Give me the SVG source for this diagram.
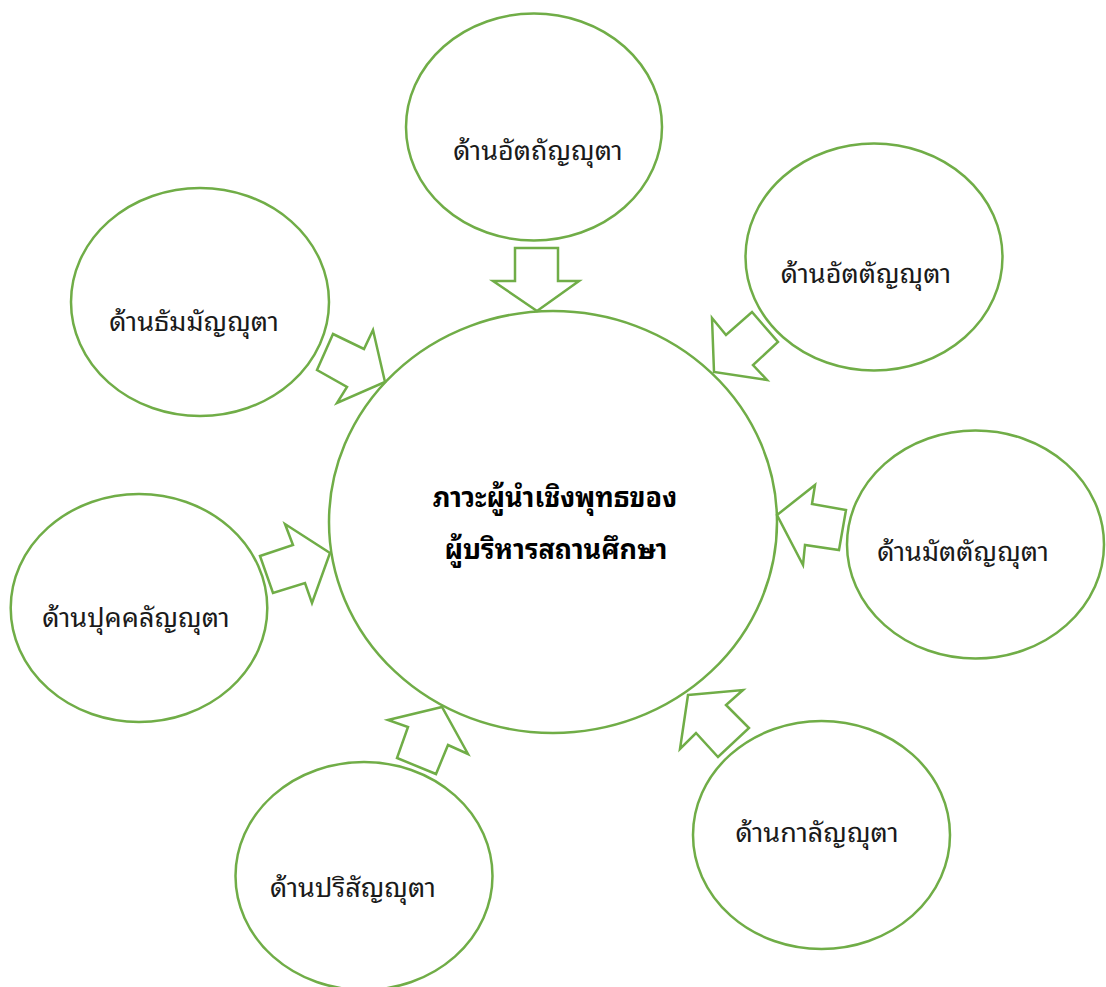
<svg xmlns="http://www.w3.org/2000/svg" width="1106" height="987" viewBox="0 0 1106 987">
<style>
.node{fill:none;stroke:#70AD47;stroke-width:2.5}
.arrow{fill:none;stroke:#70AD47;stroke-width:2.5;stroke-linejoin:miter}
.lbl{font-family:"Noto Sans Thai Looped","Noto Sans Thai","Noto Sans","DejaVu Sans",sans-serif;font-size:27px;fill:#1a1a1a;text-anchor:middle}
.ctr{font-family:"Noto Sans Thai Looped","Noto Sans Thai","Noto Sans","DejaVu Sans",sans-serif;font-size:27px;font-weight:bold;fill:#000;text-anchor:middle}
</style>
<rect width="1106" height="987" fill="#fff"/>
<g id="center">
<ellipse class="node" cx="553" cy="522" rx="224" ry="211"/>
<text class="ctr" x="555" y="507">ภาวะผู้นำเชิงพุทธของ</text>
<text class="ctr" x="556" y="559">ผู้บริหารสถานศึกษา</text>
</g>
<g id="n-top">
<ellipse class="node" cx="534" cy="127" rx="128" ry="113.5"/>
<text class="lbl" x="538" y="160">ด้านอัตถัญญุตา</text>
</g>
<g id="n-upper-right">
<ellipse class="node" cx="874" cy="257" rx="128.5" ry="113.5"/>
<text class="lbl" x="866" y="283">ด้านอัตตัญญุตา</text>
</g>
<g id="n-upper-left">
<ellipse class="node" cx="200" cy="302" rx="129" ry="114"/>
<text class="lbl" x="194" y="331">ด้านธัมมัญญุตา</text>
</g>
<g id="n-right">
<ellipse class="node" cx="975.5" cy="544.5" rx="128.5" ry="114"/>
<text class="lbl" x="963" y="561">ด้านมัตตัญญุตา</text>
</g>
<g id="n-left">
<ellipse class="node" cx="139" cy="608" rx="128.3" ry="114"/>
<text class="lbl" x="136" y="627">ด้านปุคคลัญญุตา</text>
</g>
<g id="n-lower-right">
<ellipse class="node" cx="821.5" cy="835" rx="128.5" ry="114"/>
<text class="lbl" x="817" y="842">ด้านกาลัญญุตา</text>
</g>
<g id="n-lower-left">
<ellipse class="node" cx="364" cy="876" rx="128.5" ry="114"/>
<text class="lbl" x="353" y="897">ด้านปริสัญญุตา</text>
</g>
<g id="connectors">
<polygon class="arrow" points="515,248 558,248 558,281 579,281 537,311 493,281 515,281"/>
<polygon class="arrow" points="712,318 726,335 752,312 778,342 753,365 767,380 714,372"/>
<polygon class="arrow" points="333,334 364,349 373,330 385,382 337,403 347,387 317,370"/>
<polygon class="arrow" points="260,556 293,545 285,524 330,553 312,603 305,583 273,593"/>
<polygon class="arrow" points="388,720 442,707 468,754 448,745 436,774 397,758 408,727"/>
<polygon class="arrow" points="688,695 743,690 726,705 749,728 718,757 696,733 680,749"/>
<polygon class="arrow" points="777,515 815,485 812,504 846,510 839,550 805,545 803,565"/>
</g>
</svg>
